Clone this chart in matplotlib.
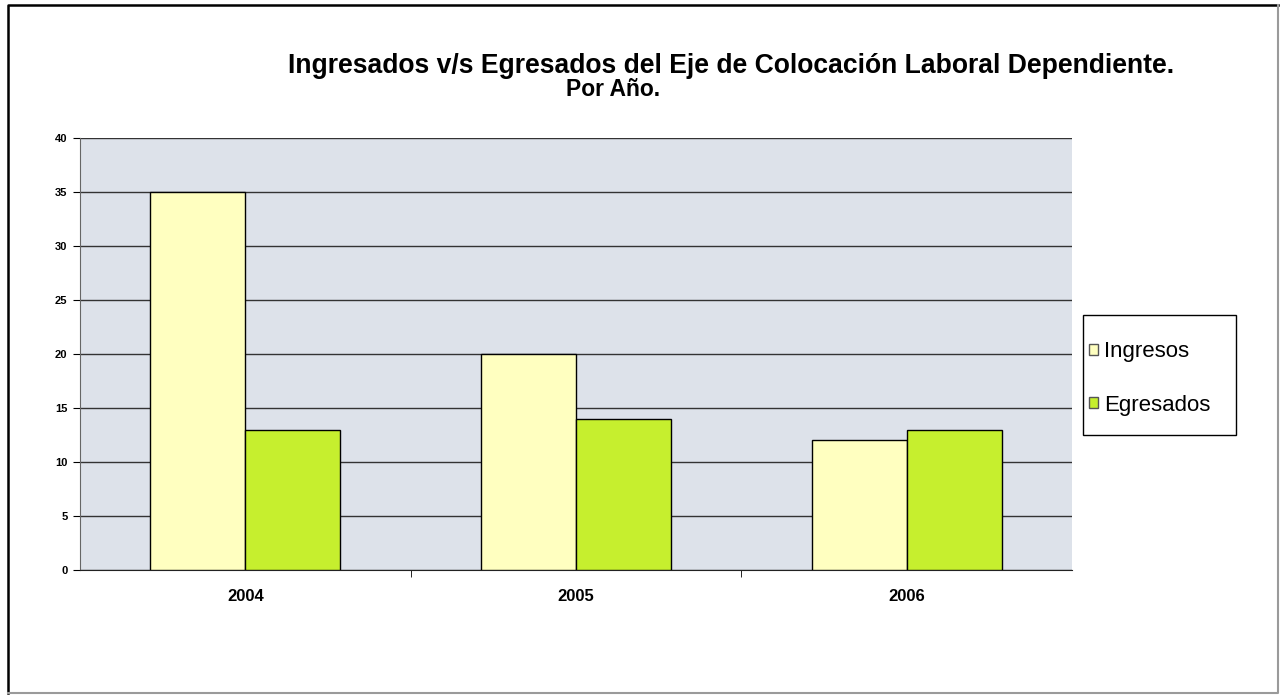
import matplotlib.pyplot as plt
from matplotlib.lines import Line2D
from matplotlib.patches import Rectangle
import numpy as np

plt.rcParams['font.family'] = ['Liberation Sans', 'DejaVu Sans']

# data
years = ['2004', '2005', '2006']
ingresos = [35, 20, 12]
egresados = [13, 14, 13]
series_names = ['Ingresos', 'Egresados']

fig = plt.figure(figsize=(12.83, 6.96), dpi=100)
ax = fig.add_axes([0.0624, 0.181, 0.7732, 0.6207])
ax.set_facecolor('#dde2ea')

x = np.arange(len(years))
w = 0.287
ax.bar(x - w / 2, ingresos, w, color='#ffffc0', edgecolor='black', linewidth=1, label=series_names[0], zorder=3)
ax.bar(x + w / 2, egresados, w, color='#c6ef2e', edgecolor='black', linewidth=1, label=series_names[1], zorder=3)

ax.set_xlim(-0.5, len(years) - 0.5)
ax.set_ylim(0, 40)
ax.set_yticks(range(0, 41, 5))
ax.yaxis.grid(True, color='#333333', linewidth=1, zorder=1)
ax.set_axisbelow(True)

ax.set_xticks(x)
ax.set_xticklabels(years, fontsize=12, fontweight='bold')
ax.tick_params(axis='x', length=0, pad=14)
ax.set_xticks(np.arange(0.5, len(years) - 0.5, 1), minor=True)
ax.tick_params(axis='x', which='minor', length=5, direction='out')
for lab in ax.get_yticklabels():
    lab.set_fontweight('bold')
ax.tick_params(axis='y', labelsize=8, length=5, direction='out', pad=4)

for s in ['top', 'right']:
    ax.spines[s].set_visible(False)
ax.spines['left'].set_color('#666666')
ax.spines['bottom'].set_color('#222222')

fig.text(0.570, 0.895, 'Ingresados v/s Egresados del Eje de Colocación Laboral Dependiente.',
         ha='center', va='baseline', fontsize=19.1, fontweight='bold')
fig.text(0.478, 0.862, 'Por Año.', ha='center', va='baseline', fontsize=16.5, fontweight='bold')

# legend: entries without frame, box drawn separately so the padding matches
leg = ax.legend(loc='upper left', bbox_to_anchor=(1.017, 0.530), frameon=False,
                fontsize=16, handlelength=0.4, handleheight=0.4, handletextpad=0.3,
                labelspacing=1.47, borderpad=0, borderaxespad=0)
for h in leg.legend_handles:
    h.set_edgecolor('#555555')
ax.add_patch(Rectangle((1.011, 0.3125), 0.1542, 0.2778, transform=ax.transAxes, fill=False,
                       edgecolor='black', linewidth=1, clip_on=False))

# outer frame of the chart
fig.add_artist(Line2D([0.006, 0.006, 0.996], [0.005, 0.993, 0.993], transform=fig.transFigure,
                      color='black', linewidth=1.8))
fig.add_artist(Line2D([0.006, 0.996, 0.996], [0.005, 0.005, 0.993], transform=fig.transFigure,
                      color='#9a9a9a', linewidth=1.5))

fig.savefig('out.png', dpi=100)
